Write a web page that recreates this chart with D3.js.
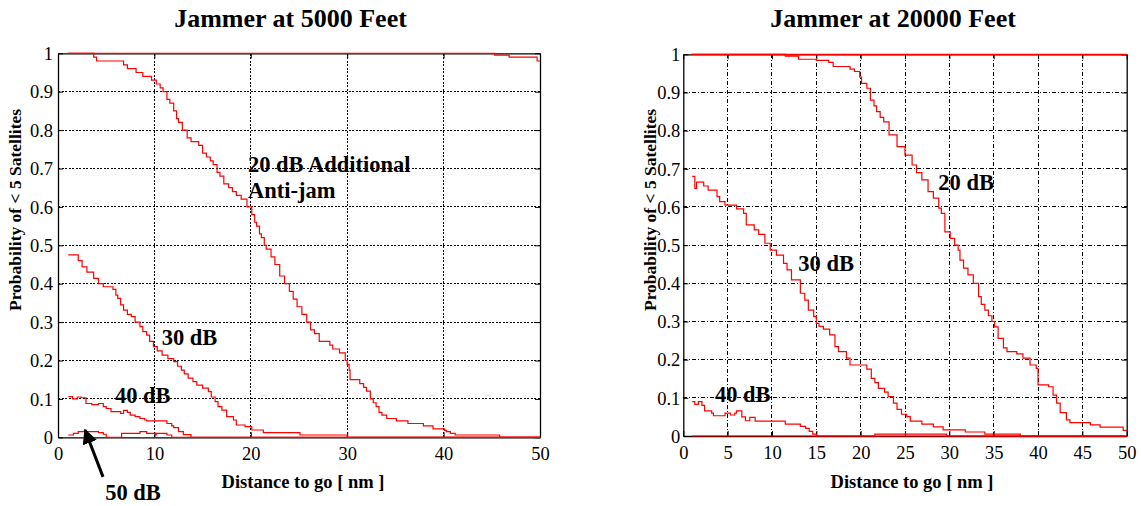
<!DOCTYPE html>
<html><head><meta charset="utf-8">
<script src="https://cdn.jsdelivr.net/npm/d3@7"></script>
<style>
html,body{margin:0;padding:0;background:#fff;}
svg{display:block;font-family:"Liberation Serif","Times New Roman",serif;}
</style></head>
<body><svg id="c" width="1141" height="506"></svg>
<script>
// ---- data (distance to go [nm], probability of < 5 satellites) ----
const xTicksLeft = [0, 10, 20, 30, 40, 50];
const xTicksRight = [0, 5, 10, 15, 20, 25, 30, 35, 40, 45, 50];
const yTicks = [0, 0.1, 0.2, 0.3, 0.4, 0.5, 0.6, 0.7, 0.8, 0.9, 1];
const yTickLabels = ["0", "0.1", "0.2", "0.3", "0.4", "0.5", "0.6", "0.7", "0.8", "0.9", "1"];

const left_top = [[1.0,1],[45.3,0.995],[46.8,0.99],[49.7,0.98],[50,0.98]];
const left_20dB = [[1.0,1.0],[3.7,0.99],[4.0,0.98],[6.8,0.97],[7.2,0.96],[8.1,0.95],[8.8,0.94],[9.7,0.93],[10.2,0.92],[10.6,0.91],[10.9,0.90],[11.3,0.88],[11.6,0.87],[12.0,0.85],[12.3,0.83],[12.5,0.82],[12.9,0.80],[13.4,0.78],[13.8,0.77],[14.6,0.76],[15.0,0.74],[15.4,0.73],[15.8,0.72],[16.1,0.71],[16.5,0.69],[16.8,0.68],[17.2,0.66],[17.7,0.65],[18.1,0.64],[18.5,0.63],[19.0,0.62],[19.6,0.60],[20.1,0.58],[20.4,0.56],[20.6,0.55],[20.9,0.53],[21.1,0.52],[21.4,0.50],[21.6,0.49],[22.1,0.47],[22.5,0.45],[23.0,0.42],[23.5,0.40],[24.0,0.38],[24.4,0.36],[24.8,0.34],[25.3,0.32],[25.8,0.30],[26.2,0.28],[26.6,0.27],[27.1,0.25],[28.2,0.24],[28.5,0.23],[29.2,0.22],[29.8,0.20],[30.0,0.19],[30.2,0.175],[30.3,0.15],[31.3,0.14],[31.7,0.13],[32.0,0.12],[32.4,0.10],[32.7,0.09],[33.0,0.08],[33.3,0.065],[33.6,0.058],[34.1,0.049],[35.1,0.043],[36.3,0.036],[37.9,0.030],[38.9,0.022],[40.1,0.018],[40.3,0.015],[40.7,0.010],[41.2,0.006],[45.8,0],[50,0]];
const left_30dB = [[1.07,0.475],[2.1,0.46],[2.5,0.444],[3.0,0.43],[3.7,0.414],[4.2,0.40],[4.7,0.392],[5.7,0.385],[6.0,0.37],[6.2,0.362],[6.5,0.345],[6.8,0.331],[7.2,0.32],[7.6,0.314],[8.0,0.30],[8.5,0.288],[8.8,0.275],[9.2,0.266],[9.5,0.25],[9.9,0.236],[10.3,0.225],[10.8,0.214],[11.4,0.205],[12.0,0.197],[12.4,0.185],[12.8,0.175],[13.1,0.165],[13.5,0.154],[14.0,0.145],[14.4,0.136],[15.0,0.128],[15.6,0.119],[15.9,0.105],[16.3,0.093],[16.6,0.08],[17.0,0.071],[17.5,0.054],[18.2,0.045],[18.5,0.032],[19.4,0.028],[20.1,0.019],[21.3,0.012],[25.1,0.006],[30.0,0],[50,0]];
const left_40dB = [[1.07,0.106],[1.5,0.10],[2.0,0.105],[2.4,0.103],[2.9,0.088],[3.5,0.085],[4.2,0.088],[4.7,0.08],[5.0,0.075],[5.5,0.067],[6.5,0.062],[6.8,0.07],[7.2,0.065],[7.5,0.058],[8.0,0.054],[8.5,0.049],[9.0,0.045],[9.2,0.043],[11.3,0.036],[11.8,0.03],[12.0,0.025],[12.5,0.015],[13.0,0.007],[13.8,0],[50,0]];
const left_50dB = [[1.07,0.006],[1.6,0.01],[2.1,0.015],[4.2,0.012],[4.7,0.008],[5.0,0],[6.6,0.01],[8.5,0.015],[9.2,0.01],[10.1,0.006],[10.2,0.01],[11.3,0.006],[11.8,0],[50,0]];

const right_top = [[0.95,1],[50,1]];
const right_20dB = [[0.95,1.0],[11.5,0.995],[13.0,0.987],[15.0,0.984],[16.4,0.979],[16.9,0.968],[18.8,0.961],[19.3,0.955],[19.9,0.94],[20.1,0.924],[20.7,0.911],[21.1,0.88],[21.5,0.865],[21.8,0.85],[22.2,0.835],[22.6,0.823],[23.2,0.789],[24.1,0.758],[25.0,0.736],[25.8,0.71],[26.3,0.69],[26.9,0.671],[27.6,0.64],[28.2,0.623],[28.8,0.597],[29.1,0.583],[29.5,0.535],[30.1,0.518],[30.6,0.50],[31.0,0.487],[31.2,0.461],[31.6,0.44],[32.1,0.422],[32.7,0.40],[33.3,0.365],[33.6,0.345],[34.0,0.330],[34.4,0.315],[34.8,0.30],[35.1,0.286],[35.5,0.256],[36.1,0.231],[36.5,0.221],[37.6,0.215],[38.3,0.204],[39.1,0.186],[39.8,0.177],[40.0,0.134],[41.2,0.129],[41.7,0.107],[42.1,0.086],[42.5,0.061],[43.2,0.042],[43.6,0.035],[45.9,0.029],[47.0,0.023],[49.6,0.015],[50,0.015]];
const right_30dB = [[1.0,0.68],[1.3,0.649],[1.5,0.665],[2.3,0.655],[2.8,0.644],[3.8,0.627],[4.1,0.614],[4.7,0.605],[6.0,0.595],[6.8,0.583],[7.1,0.553],[8.0,0.54],[8.5,0.528],[9.2,0.505],[9.8,0.487],[10.5,0.474],[11.3,0.452],[11.7,0.435],[12.2,0.409],[13.2,0.374],[13.7,0.356],[14.1,0.330],[14.7,0.313],[15.0,0.295],[15.3,0.287],[15.8,0.28],[16.5,0.265],[17.1,0.234],[17.5,0.221],[18.4,0.204],[18.8,0.186],[20.7,0.175],[21.2,0.151],[21.6,0.14],[22.0,0.125],[22.7,0.115],[23.1,0.103],[23.7,0.086],[24.1,0.07],[24.6,0.057],[25.2,0.051],[25.6,0.039],[26.9,0.031],[28.2,0.024],[29.3,0.016],[31.8,0.0105],[34.0,0.005],[38.0,0],[50,0]];
const right_40dB = [[1.0,0.09],[1.3,0.083],[1.7,0.09],[2.1,0.08],[2.4,0.066],[3.2,0.06],[3.4,0.053],[4.7,0.06],[5.3,0.055],[5.8,0.06],[6.0,0.066],[6.6,0.05],[7.0,0.04],[7.5,0.049],[8.1,0.039],[11.5,0.031],[13.2,0.025],[13.8,0.02],[14.2,0.012],[14.6,0.005],[15.0,0],[50,0]];
const right_50dB = [[1.0,0],[21.6,0.005],[29.7,0],[50,0]];

const svg = d3.select("#c");
const serif = '"Liberation Serif","Times New Roman",serif';

function panel(cfg) {
  const x = d3.scaleLinear().domain([0, 50]).range([cfg.x0, cfg.x1]);
  const y = d3.scaleLinear().domain([0, 1]).range([cfg.y0, cfg.y1]);
  const g = svg.append("g");

  // grid
  const gx = cfg.xTicks.filter(t => t > 0 && t < 50);
  const gy = yTicks.filter(t => t > 0 && t < 1);
  g.selectAll(".vg").data(gx).join("line")
    .attr("x1", d => x(d)).attr("x2", d => x(d))
    .attr("y1", y(0)).attr("y2", y(1))
    .attr("stroke", "#000").attr("stroke-width", 1).attr("stroke-dasharray", cfg.dash)
    .attr("shape-rendering", "crispEdges");
  g.selectAll(".hg").data(gy).join("line")
    .attr("x1", x(0)).attr("x2", x(50))
    .attr("y1", d => y(d)).attr("y2", d => y(d))
    .attr("stroke", "#000").attr("stroke-width", 1).attr("stroke-dasharray", cfg.dash)
    .attr("shape-rendering", "crispEdges");

  // axes (MATLAB style, ticks inward, box)
  const ax = g.append("g").attr("transform", `translate(0,${y(0)})`)
    .call(d3.axisBottom(x).tickValues(cfg.xTicks).tickSizeInner(-5).tickSizeOuter(0).tickPadding(10).tickFormat(d3.format("d")));
  const ay = g.append("g").attr("transform", `translate(${x(0)},0)`)
    .call(d3.axisLeft(y).tickValues(yTicks).tickSizeInner(-5).tickSizeOuter(0).tickPadding(cfg.ypad).tickFormat((d, i) => yTickLabels[i]));
  const at = g.append("g").attr("transform", `translate(0,${y(1)})`)
    .call(d3.axisTop(x).tickValues(cfg.xTicks).tickSizeInner(-5).tickSizeOuter(0).tickFormat(""));
  const ar = g.append("g").attr("transform", `translate(${x(50)},0)`)
    .call(d3.axisRight(y).tickValues(yTicks).tickSizeInner(-5).tickSizeOuter(0).tickFormat(""));
  [ax, ay, at, ar].forEach(a => {
    a.attr("font-family", serif);
    a.select(".domain").attr("stroke", "#000").attr("stroke-width", 1.3);
    a.selectAll(".tick line").attr("stroke", "#000");
  });
  ax.selectAll(".tick text").attr("font-family", serif).attr("font-size", 18.5).attr("fill", "#000")
    .attr("dy", null).attr("y", 23);
  ay.selectAll(".tick text").attr("font-family", serif).attr("font-size", 18.5).attr("fill", "#000")
    .attr("dy", "0.34em");

  // curves
  const line = d3.line().x(d => x(d[0])).y(d => y(d[1])).curve(d3.curveStepAfter);
  g.selectAll(".curve").data(cfg.series).join("path")
    .attr("d", d => line(d)).attr("fill", "none")
    .attr("stroke", "#ff0000").attr("stroke-width", 1.2);

  // annotations
  g.selectAll(".ann").data(cfg.notes).join("text")
    .attr("x", d => x(d.x)).attr("y", d => y(d.y))
    .attr("font-family", serif).attr("font-weight", "bold").attr("font-size", 22.5)
    .attr("fill", "#000").text(d => d.t);

  // titles / labels
  g.append("text").attr("x", cfg.titleX).attr("y", 27).attr("text-anchor", "middle")
    .attr("font-family", serif).attr("font-weight", "bold").attr("font-size", 26).text(cfg.title);
  g.append("text").attr("x", cfg.xlabX).attr("y", 488).attr("text-anchor", "middle")
    .attr("font-family", serif).attr("font-weight", "bold").attr("font-size", 18.5).text("Distance to go [ nm ]");
  g.append("text").attr("transform", `translate(${cfg.ylabX},210) rotate(-90)`).attr("text-anchor", "middle")
    .attr("font-family", serif).attr("font-weight", "bold").attr("font-size", 17.5).text("Probability of < 5 Satellites");
  return { x, y, g };
}

const L = panel({
  x0: 58, x1: 540, y0: 437.3, y1: 53.3, xTicks: xTicksLeft, dash: "2,1.5", ypad: 5,
  series: [left_top, left_20dB, left_30dB, left_40dB, left_50dB],
  notes: [{t: "20 dB Additional", x: 19.7, y: 0.692}, {t: "Anti-jam", x: 19.7, y: 0.622},
          {t: "30 dB", x: 10.76, y: 0.240}, {t: "40 dB", x: 5.9, y: 0.0885}, {t: "50 dB", x: 4.9, y: -0.163}],
  title: "Jammer at 5000 Feet", titleX: 290.5, xlabX: 303, ylabX: 21
});

// arrow to 50 dB curve
svg.append("defs").append("marker").attr("id", "ah").attr("viewBox", "0 0 10 10")
  .attr("refX", 9).attr("refY", 5).attr("markerWidth", 5).attr("markerHeight", 5)
  .attr("orient", "auto").attr("markerUnits", "strokeWidth")
  .append("path").attr("d", "M0,0 L10,5 L0,10 z").attr("fill", "#000");
L.g.append("line").attr("x1", L.x(4.67)).attr("y1", L.y(-0.103))
  .attr("x2", L.x(2.8)).attr("y2", L.y(0.019))
  .attr("stroke", "#000").attr("stroke-width", 3).attr("marker-end", "url(#ah)");

panel({
  x0: 683.3, x1: 1126.7, y0: 436, y1: 54.3, xTicks: xTicksRight, dash: "4,2,1,2", ypad: 3,
  series: [right_top, right_20dB, right_30dB, right_40dB, right_50dB],
  notes: [{t: "20 dB", x: 28.75, y: 0.644}, {t: "30 dB", x: 12.97, y: 0.433}, {t: "40 dB", x: 3.57, y: 0.09}],
  title: "Jammer at 20000 Feet", titleX: 893, xlabX: 912, ylabX: 656
});
</script></body></html>
